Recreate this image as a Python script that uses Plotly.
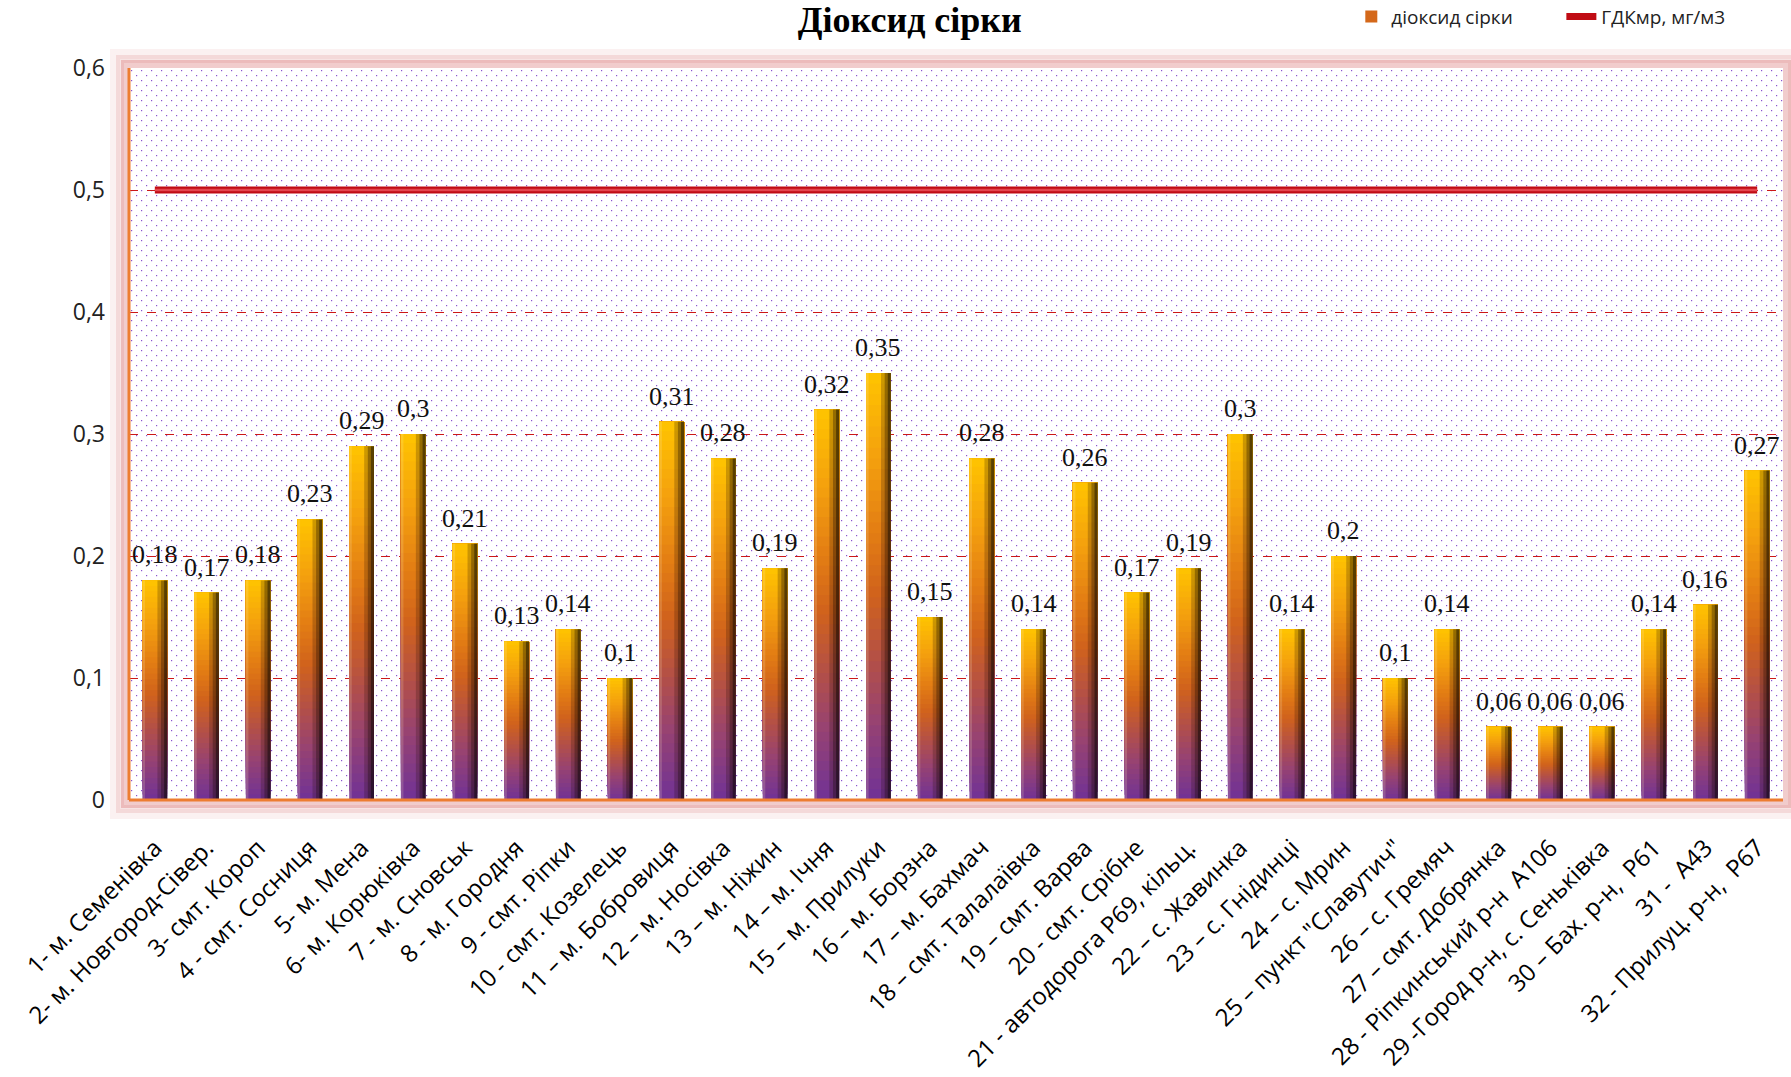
import base64
import plotly.graph_objects as go

# ---------------- data ----------------
categories = [
    "1- м. Семенівка", "2- м. Новгород-Сівер.", "3- смт. Короп", "4 - смт. Сосниця",
    "5- м. Мена", "6- м. Корюківка", "7 - м. Сновськ", "8 - м. Городня",
    "9 - смт. Ріпки", "10 - смт. Козелець", "11 – м. Бобровиця", "12 – м. Носівка",
    "13 – м. Ніжин", "14 – м. Ічня", "15 – м. Прилуки", "16 – м. Борзна",
    "17 – м. Бахмач", "18 – смт. Талалаївка", "19 – смт. Варва", "20 - смт. Срібне",
    "21 - автодорога Р69, кільц.", "22 – с. Жавинка", "23 – с. Гнідинці", "24 – с. Мрин",
    "25 – пункт \"Славутич\"", "26 – с. Гремяч", "27 – смт. Добрянка", "28 - Ріпкинський р-н  А106",
    "29 -Город р-н, с. Сеньківка", "30 – Бах. р-н,  Р61", "31 -  А43", "32 - Прилуц. р-н,  Р67",
]
values = [0.18, 0.17, 0.18, 0.23, 0.29, 0.30, 0.21, 0.13, 0.14, 0.10, 0.31, 0.28,
          0.19, 0.32, 0.35, 0.15, 0.28, 0.14, 0.26, 0.17, 0.19, 0.30, 0.14, 0.20,
          0.10, 0.14, 0.06, 0.06, 0.06, 0.14, 0.16, 0.27]
limit_value = 0.5
y_ticks = [0, 0.1, 0.2, 0.3, 0.4, 0.5, 0.6]
y_tick_labels = ["0", "0,1", "0,2", "0,3", "0,4", "0,5", "0,6"]
title_text = "Діоксид сірки"
series_name = "діоксид сірки"
limit_name = "ГДКмр, мг/м3"

# ---------------- styling helpers ----------------
gradient_stops = [
    (0.00, (112, 50, 150)),
    (0.18, (150, 66, 115)),
    (0.33, (180, 80, 70)),
    (0.48, (208, 98, 28)),
    (0.62, (226, 124, 20)),
    (0.80, (244, 160, 14)),
    (1.00, (255, 196, 0)),
]


def grad(t):
    for (t0, c0), (t1, c1) in zip(gradient_stops[:-1], gradient_stops[1:]):
        if t <= t1:
            f = (t - t0) / (t1 - t0) if t1 > t0 else 0
            c = [round(a + (b - a) * f) for a, b in zip(c0, c1)]
            return "rgb(%d,%d,%d)" % tuple(c)
    return "rgb(%d,%d,%d)" % gradient_stops[-1][1]


def fmt(v):
    s = ("%.2f" % v).rstrip("0").rstrip(".")
    return s.replace(".", ",")


fig = go.Figure()

BAR_W = 0.48
N = 40
for k in range(N):
    frac0 = k / N
    fig.add_bar(
        x=categories,
        y=[v * (1 - frac0) for v in values],
        base=[v * frac0 for v in values],
        width=BAR_W,
        marker=dict(color=grad((k + 0.5) / N), line=dict(width=0)),
        name=series_name,
        legendgroup="s",
        legend="legend",
        showlegend=(k == N // 2),
        hoverinfo="skip",
    )

# 3D shading strips (right side darker, left side lighter)
for off, w, col in [(0.05, 0.19, "rgba(30,10,0,0.22)"),
                    (0.12, 0.12, "rgba(20,5,0,0.30)"),
                    (0.18, 0.06, "rgba(0,0,0,0.40)"),
                    (-0.24, 0.05, "rgba(255,240,200,0.18)")]:
    fig.add_bar(x=categories, y=values, width=w, offset=off,
                marker=dict(color=col, line=dict(width=0)),
                showlegend=False, hoverinfo="skip")

# limit line (double look)
fig.add_scatter(x=categories, y=[limit_value] * len(categories), mode="lines",
                line=dict(color="#c00c14", width=7), name=limit_name, legend="legend2")
fig.add_scatter(x=categories, y=[limit_value] * len(categories), mode="lines",
                line=dict(color="#e4464e", width=2.5), showlegend=False, hoverinfo="skip")

# value labels
for c, v in zip(categories, values):
    fig.add_annotation(x=c, y=v, text=fmt(v), showarrow=False, yanchor="bottom",
                       yshift=9, font=dict(family="Liberation Serif", size=26, color="#111"))

# dotted background pattern
PW, PH = 1654, 732
svg = (
    f"<svg xmlns='http://www.w3.org/2000/svg' width='{PW}' height='{PH}' "
    f"viewBox='0 0 {PW} {PH}' preserveAspectRatio='none'>"
    "<defs><pattern id='p' width='10' height='10' patternUnits='userSpaceOnUse'>"
    "<rect x='2' y='2' width='1.2' height='1.2' fill='#8a52d0'/>"
    "<rect x='7' y='7' width='1.2' height='1.2' fill='#8a52d0'/>"
    "</pattern></defs><rect width='100%' height='100%' fill='white'/>"
    "<rect width='100%' height='100%' fill='url(#p)'/></svg>"
)
img_src = "data:image/svg+xml;base64," + base64.b64encode(svg.encode()).decode()

fx = 1.0 / PW
fy = 1.0 / PH
shapes = []
# soft pink glow around plot area
for d, w, col in [(14, 10, "rgba(225,150,150,0.13)"), (9, 8, "rgba(220,130,130,0.22)"),
                  (4, 8, "rgba(215,115,115,0.36)")]:
    shapes.append(dict(type="rect", xref="paper", yref="paper", layer="below",
                       x0=-d * fx, x1=1 + d * fx, y0=-d * fy, y1=1 + d * fy,
                       line=dict(color=col, width=w), fillcolor="rgba(0,0,0,0)"))
# orange left and bottom border
shapes.append(dict(type="line", xref="paper", yref="paper", x0=0, x1=0, y0=0, y1=1,
                   line=dict(color="#ed7d31", width=3)))
shapes.append(dict(type="line", xref="paper", yref="paper", x0=0, x1=1, y0=0, y1=0,
                   line=dict(color="#ed7d31", width=3)))

legend_font = dict(family="Open Sans", size=19, color="#222")

fig.update_layout(
    width=1791, height=1077,
    margin=dict(l=129, r=8, t=68, b=277, autoexpand=False),
    barmode="overlay",
    paper_bgcolor="white",
    plot_bgcolor="rgba(0,0,0,0)",
    separators=", ",
    title=dict(text=title_text, x=0.508, xanchor="center", y=0.982, yanchor="middle",
               font=dict(family="Liberation Serif", size=36, color="black", weight="bold")),
    legend=dict(orientation="h", x=0.739, xanchor="left", y=1.07, yanchor="middle",
                font=legend_font, bgcolor="rgba(0,0,0,0)"),
    legend2=dict(orientation="h", x=0.866, xanchor="left", y=1.07, yanchor="middle",
                 font=legend_font, bgcolor="rgba(0,0,0,0)"),
    xaxis=dict(type="category", tickangle=-45, automargin=False, showgrid=False,
               zeroline=False, showline=False, ticks="", ticklabelstandoff=28,
               tickfont=dict(family="Open Sans", size=24, color="black")),
    yaxis=dict(range=[0, 0.6], tickvals=y_ticks, ticktext=y_tick_labels,
               showgrid=True, gridcolor="#cc1818", griddash="dash", gridwidth=1,
               zeroline=False, showline=False, automargin=False, ticks="",
               ticklabelstandoff=23,
               tickfont=dict(family="Open Sans", size=23, color="#222")),
    images=[dict(source=img_src, xref="paper", yref="paper", x=0, y=1, sizex=1, sizey=1,
                 xanchor="left", yanchor="top", sizing="stretch", layer="below")],
    shapes=shapes,
    showlegend=True,
)

fig.write_html("out.html", config={"displayModeBar": False},
               post_script="document.body.style.margin='0';document.body.style.overflow='hidden';")
